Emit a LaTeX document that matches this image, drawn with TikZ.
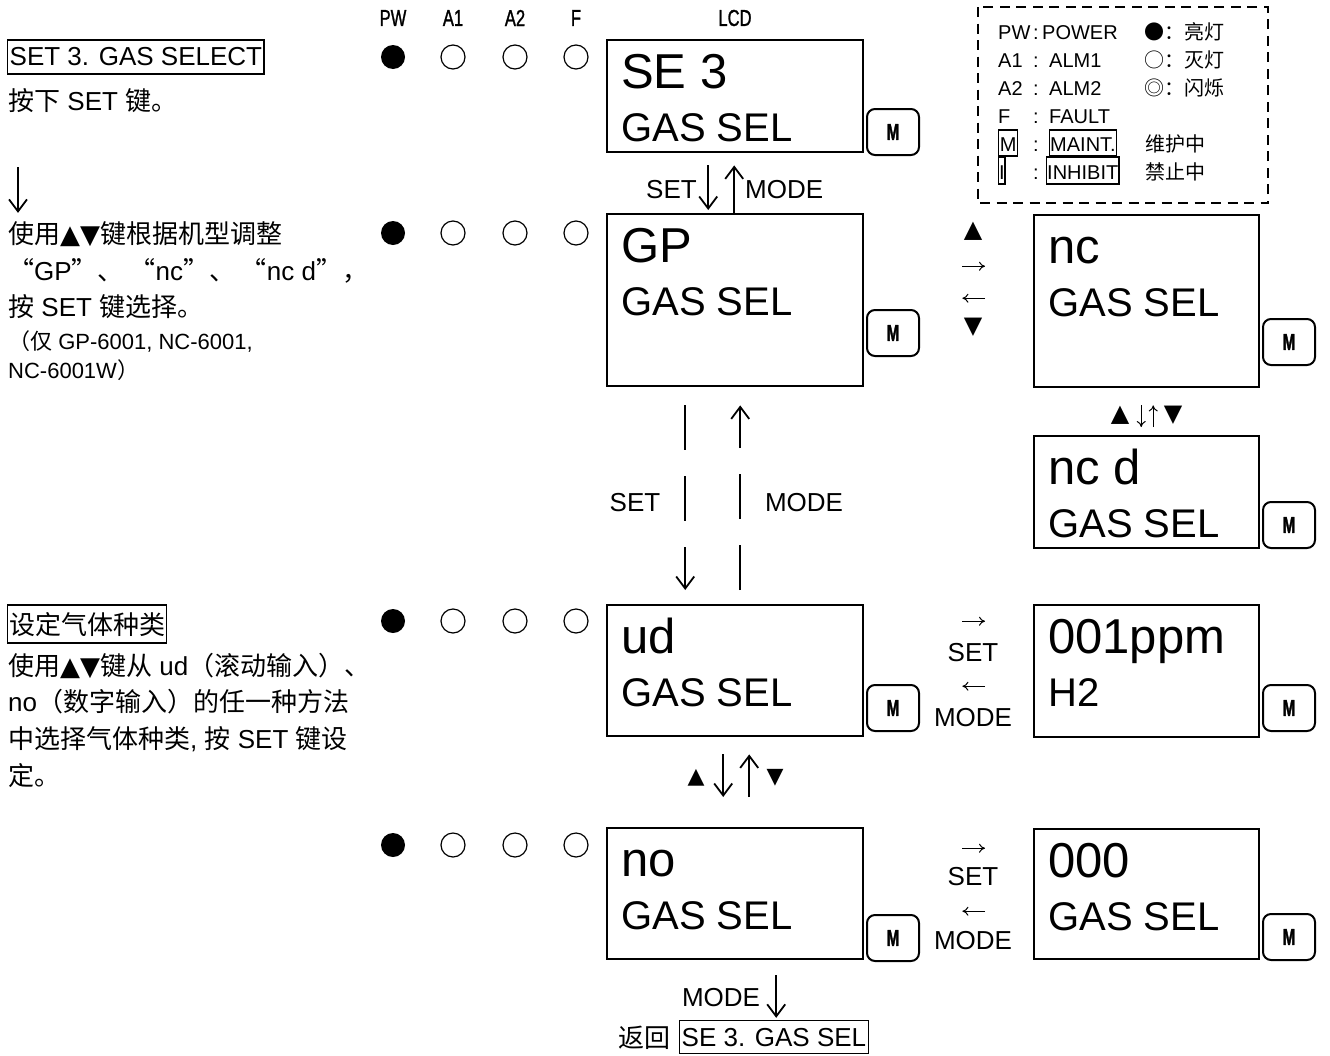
\documentclass[tikz,border=0pt]{standalone}
\usepackage{fontspec}
\setmainfont{Liberation Sans}
\newfontfamily\zhfont{Noto Sans CJK SC}
\newfontfamily\symfont{DejaVu Sans}
\newfontfamily\hdrfont[FakeStretch=0.72,FakeBold=1.2]{Liberation Sans}
\newfontfamily\keyfont[FakeStretch=0.66,FakeBold=1.5]{Liberation Sans Bold}
\newcommand\zh[1]{{\zhfont#1}}
\newcommand\pxsize[1]{\fontsize{#1}{#1}\selectfont}
\usetikzlibrary{arrows.meta}
\tikzset{
  % anzeige
  lcd/.style={draw,line width=2.4pt,inner sep=0pt,anchor=north west},
  lcdup/.style={font=\pxsize{49},inner sep=0pt,anchor=base west},
  lcdlow/.style={font=\pxsize{40},inner sep=0pt,anchor=base west},
  mkey/.style={draw,line width=2pt,rounded corners=8pt,minimum width=52pt,
               minimum height=46pt,inner sep=0pt,font=\keyfont\pxsize{23}},
  ledon/.style={circle,fill=black,inner sep=0pt,minimum size=24pt},
  ledoff/.style={circle,draw=black,line width=1.2pt,inner sep=0pt,minimum size=24pt},
  hdr/.style={font=\hdrfont\pxsize{23},inner sep=0pt},
  % texte
  txt/.style={font=\pxsize{26},inner sep=0pt,anchor=base west},
  note/.style={font=\pxsize{22},inner sep=0pt,anchor=base west},
  lab/.style={font=\pxsize{26},inner sep=0pt},
  leg/.style={font=\pxsize{20},inner sep=0pt,anchor=base west},
  frm/.style={draw,line width=1.4pt},
  tri/.style={font=\symfont\pxsize{24},inner sep=0pt},
  % pfeile
  arr/.style={-{Straight Barb[length=12pt,width=18pt]},line width=1.8pt},
  sarr/.style={-{To[length=6pt,width=9pt]},line width=1pt},
  darr/.style={arr,dash pattern=on 45pt off 26pt},
  legbox/.style={draw,line width=2.2pt,dash pattern=on 10pt off 6.5pt},
}
\begin{document}
\begin{tikzpicture}[x=1pt,y=-1pt]
\useasboundingbox (0,0) rectangle (1330,1055);
% LED-Kopf
\foreach \n/\x/\t in {hpw/393/PW, ha1/453/A1, ha2/515/A2, hf/576/F, hlcd/735/LCD}
  \node[hdr] (\n) at (\x,18) {\t};
\foreach \r/\y in {1/57, 2/233, 3/621, 4/845} {
  \node[ledon] (pw\r) at (393,\y) {};
  \foreach \c/\x in {a/453, b/515, f/576}
    \node[ledoff] (\c\r) at (\x,\y) {};
}
% LCD
\foreach \n/\x/\y/\w/\h/\a/\b in {se3/606/39/256/112/SE 3/GAS SEL,
    gp/606/213/256/172/GP/GAS SEL, nc/1033/214/225/172/nc/GAS SEL,
    ncd/1033/435/225/112/nc d/GAS SEL, ud/606/604/256/131/ud/GAS SEL,
    ppm/1033/604/225/132/001ppm/H2, no/606/827/256/131/no/GAS SEL,
    zero/1033/828/225/130/000/GAS SEL} {
  \node[lcd,minimum width=\w pt,minimum height=\h pt] (\n) at (\x,\y) {};
  \node[lcdup] (\n-up) at ([shift={(15,49)}]\n.north west) {\a};
  \node[lcdlow] (\n-low) at ([shift={(15,102)}]\n.north west) {\b};
}
\foreach \n/\x/\y in {se3/893/132, gp/893/333, nc/1289/342, ncd/1289/525,
    ud/893/708, ppm/1289/708, no/893/938, zero/1289/937}
  \node[mkey] (m-\n) at (\x,\y) {M};
% Legende
\draw[legbox] (978,7) rectangle (1268,203);
\node[leg] (l-pw) at (998,39) {PW};
\node[leg] (l-a1) at (998,67) {A1};
\node[leg] (l-a2) at (998,95) {A2};
\node[leg] (l-f) at (998,123) {F};
\node[leg,frm,inner xsep=1.2pt,text height=21pt,text depth=5pt] (l-m) at (998,151) {M};
\node[leg,frm,inner xsep=0.3pt,text height=22pt,text depth=5pt] (l-i) at (998,179) {I};
\foreach \y in {39,67,95,123,151,179}
  \node[leg,anchor=base] at (1036,\y) {:};
\node[leg] (l-power) at (1042,39) {POWER};
\node[leg] (l-alm1) at (1049,67) {ALM1};
\node[leg] (l-alm2) at (1049,95) {ALM2};
\node[leg] (l-fault) at (1049,123) {FAULT};
\node[leg,frm,inner xsep=0.5pt,text height=21pt,text depth=5pt] (l-maint) at (1049,151) {MAINT.};
\node[leg,frm,inner xsep=0.5pt,text height=22pt,text depth=5pt] (l-inh) at (1046,179) {INHIBIT};
\node[leg] (l-on) at (1144,39) {\zh{●：亮灯}};
\node[leg] (l-off) at (1144,67) {\zh{○：灭灯}};
\node[leg] (l-blink) at (1144,95) {\zh{◎：闪烁}};
\node[leg] (l-mt) at (1145,151) {\zh{维护中}};
\node[leg] (l-ih) at (1145,179) {\zh{禁止中}};
% linke Texte
\node[txt,frm,anchor=west,inner xsep=2pt,inner ysep=0pt,text height=25pt,text depth=9pt]
  (t-set3) at (7,57) {SET 3. GAS SELECT};
\node[txt] (press) at (8,110) {\zh{按下} SET \zh{键。}};
\node[txt] (use1) at (8,243) {\zh{使用}{\symfont▲▼}\zh{键根据机型调整}};
\node[txt] (use2) at (8,280) {\zh{“}GP\zh{”、 “}nc\zh{”、 “}nc d\zh{”，}};
\node[txt] (use3) at (8,316) {\zh{按} SET \zh{键选择。}};
\node[note] (only1) at (8,349) {\zh{（仅} GP-6001, NC-6001,};
\node[note] (only2) at (8,378) {NC-6001W\zh{）}};
\draw[arr,shorten <=55pt,shorten >=8pt] ([xshift=10pt]press.south west)
  -- ([xshift=10pt]press.south west |- use1.north);
\node[txt,frm,anchor=west,inner xsep=1.5pt,inner ysep=0pt,text height=29pt,text depth=9pt]
  (t-gas) at (7,624) {\zh{设定气体种类}};
\node[txt] (gas1) at (8,675) {\zh{使用}{\symfont▲▼}\zh{键从} ud\zh{（滚动输入）、}};
\node[txt] (gas2) at (8,711) {no\zh{（数字输入）的任一种方法}};
\node[txt] (gas3) at (8,748) {\zh{中选择气体种类}, \zh{按} SET \zh{键设}};
\node[txt] (gas4) at (8,785) {\zh{定。}};
% SE 3 <-> GP
\node[lab,anchor=east] (set-a) at (697,190) {SET};
\node[lab,anchor=west] (mode-a) at (745,190) {MODE};
\draw[arr,shorten <=12pt,shorten >=3pt] ([xshift=-27pt]se3.south) -- ([xshift=-27pt]gp.north);
\draw[arr,shorten >=12pt] ([xshift=-1pt]gp.north) -- ([xshift=-1pt]se3.south);
% GP <-> nc
\node[tri] (up-a) at (973,231) {▲};
\node[tri] (dn-a) at (973,327) {▼};
\draw[sarr,shorten <=98pt,shorten >=48pt] ([yshift=34pt]gp.east) -- ([yshift=34pt]gp.east -| nc.west);
\draw[sarr,shorten <=48pt,shorten >=98pt] ([yshift=2pt]gp.east -| nc.west) -- ([yshift=2pt]gp.east);
% nc <-> nc d
\node[tri] (up-b) at (1120,415) {▲};
\node[tri] (dn-b) at (1173,415) {▼};
\draw[sarr,shorten <=17pt,shorten >=8pt] ([xshift=-5.5pt]nc.south) -- ([xshift=-5.5pt]ncd.north);
\draw[sarr,shorten <=8pt,shorten >=17pt] ([xshift=6.5pt]ncd.north) -- ([xshift=6.5pt]nc.south);
% GP <-> ud
\node[lab] (set-b) at (635,503) {SET};
\node[lab] (mode-b) at (804,503) {MODE};
\draw[darr,shorten <=18pt,shorten >=14pt] ([xshift=-50pt]gp.south) -- ([xshift=-50pt]ud.north);
\draw[darr,shorten <=14pt,shorten >=18pt] ([xshift=5pt]ud.north) -- ([xshift=5pt]gp.south);
% ud <-> 001ppm
\node[lab] (set-c) at (973,653) {SET};
\node[lab] (mode-c) at (973,718) {MODE};
\draw[sarr,shorten <=98pt,shorten >=48pt] ([yshift=49.5pt]ud.east) -- ([yshift=49.5pt]ud.east -| ppm.west);
\draw[sarr,shorten <=48pt,shorten >=98pt] ([yshift=-15.5pt]ud.east -| ppm.west) -- ([yshift=-15.5pt]ud.east);
% ud <-> no
\node[tri,font=\symfont\pxsize{22}] (up-c) at (696,778) {▲};
\node[tri,font=\symfont\pxsize{22}] (dn-c) at (775,778) {▼};
\draw[arr,shorten <=17pt,shorten >=30pt] ([xshift=-12pt]ud.south) -- ([xshift=-12pt]no.north);
\draw[arr,shorten <=30pt,shorten >=17pt] ([xshift=14pt]no.north) -- ([xshift=14pt]ud.south);
% no <-> 000
\node[lab] (set-d) at (973,877) {SET};
\node[lab] (mode-d) at (973,941) {MODE};
\draw[sarr,shorten <=98pt,shorten >=48pt] ([yshift=45.5pt]no.east) -- ([yshift=45.5pt]no.east -| zero.west);
\draw[sarr,shorten <=48pt,shorten >=98pt] ([yshift=-17.5pt]no.east -| zero.west) -- ([yshift=-17.5pt]no.east);
% zurueck
\node[lab] (mode-e) at (721,998) {MODE};
\node[lab] (back) at (644,1038) {\zh{返回}};
\node[lab,frm,anchor=west,inner xsep=2pt,inner ysep=0pt,text height=26pt,text depth=7pt]
  (ret) at (679,1037) {SE 3. GAS SEL};
\draw[arr,shorten <=15pt,shorten >=2pt] ([xshift=41pt]no.south) -- ([xshift=41pt]no.south |- ret.north);
\end{tikzpicture}
\end{document}
